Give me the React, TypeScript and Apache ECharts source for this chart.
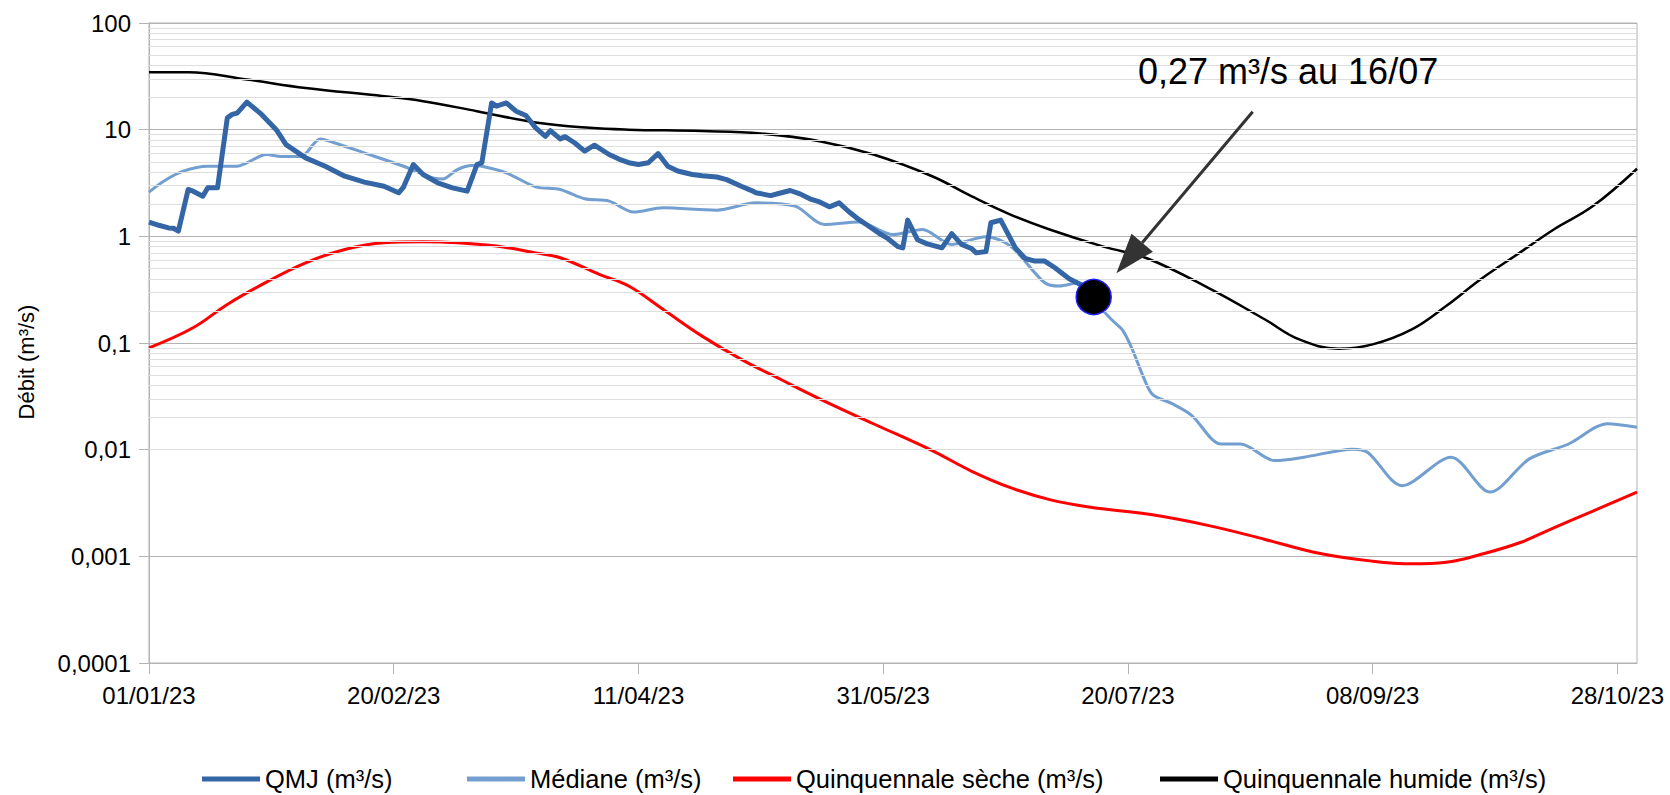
import React, { useEffect, useRef } from "react";
import * as echarts from "echarts";

// ---- data (x = day index from 01/01/2023, y = m³/s) ----
const qmjDays = [0, 2, 4, 5, 6, 8, 9, 11, 12, 14, 16, 17, 18, 20, 23, 26, 28, 32, 36, 40, 44, 48, 51, 52, 54, 56, 59, 62, 65, 67, 68, 70, 71, 73, 75, 77, 79, 81, 82, 84, 85, 87, 89, 91, 94, 96, 98, 100, 102, 104, 106, 108, 111, 113, 116, 118, 121, 123, 124, 127, 129, 131, 133, 135, 137, 139, 141, 143, 145, 147, 149, 151, 153, 154, 155, 157, 159, 162, 164, 166, 168, 169, 171, 172, 174, 175, 177, 179, 181, 183, 185, 188, 191, 193];
const qmjValues = [1.36, 1.27, 1.2, 1.19, 1.12, 2.75, 2.65, 2.38, 2.85, 2.85, 12.9, 13.9, 14.3, 18.1, 13.9, 10, 7.24, 5.44, 4.54, 3.66, 3.22, 2.95, 2.56, 2.9, 4.71, 3.8, 3.17, 2.85, 2.65, 4.7, 4.9, 17.8, 16.6, 17.8, 14.9, 13.6, 10.4, 8.67, 9.8, 8.2, 8.6, 7.5, 6.3, 7.15, 5.85, 5.3, 4.9, 4.71, 4.89, 5.97, 4.54, 4.1, 3.8, 3.7, 3.6, 3.4, 2.95, 2.7, 2.56, 2.41, 2.55, 2.69, 2.5, 2.25, 2.1, 1.89, 2.06, 1.7, 1.44, 1.25, 1.08, 0.95, 0.8, 0.78, 1.42, 0.93, 0.85, 0.78, 1.06, 0.84, 0.77, 0.7, 0.72, 1.34, 1.42, 1.16, 0.78, 0.62, 0.586, 0.586, 0.51, 0.4, 0.34, 0.27];

const medDays = [0, 3, 7, 12, 18, 20, 24, 27, 31, 35, 38, 44, 52, 58, 60, 63, 66, 68, 73, 79, 84, 89, 94, 99, 105, 116, 124, 132, 138, 145, 152, 158, 164, 171, 176, 183, 186, 190, 193, 195, 197, 199, 201, 203, 205, 209, 213, 219, 223, 230, 236, 246, 249, 256, 266, 274, 282, 290, 298, 304];
const medValues = [2.6, 3.29, 4.08, 4.54, 4.54, 4.89, 5.85, 5.6, 5.6, 8.19, 7.5, 6.06, 4.54, 3.53, 3.45, 4.23, 4.61, 4.54, 3.94, 2.91, 2.75, 2.25, 2.14, 1.69, 1.85, 1.76, 2.06, 1.92, 1.29, 1.36, 1.04, 1.16, 0.84, 0.99, 0.81, 0.367, 0.342, 0.367, 0.275, 0.2, 0.16, 0.13, 0.085, 0.05, 0.033, 0.027, 0.021, 0.0113, 0.0113, 0.0079, 0.0085, 0.0101, 0.0094, 0.0046, 0.0085, 0.004, 0.0082, 0.0113, 0.0175, 0.0162];

const secheDays = [0, 9, 16, 24, 32, 40, 48, 56, 63, 71, 79, 84, 92, 98, 105, 113, 121, 129, 137, 148, 160, 168, 176, 184, 192, 205, 217, 228, 239, 250, 258, 265, 272, 280, 287, 295, 304];
const secheValues = [0.09, 0.139, 0.23, 0.372, 0.565, 0.753, 0.87, 0.89, 0.87, 0.81, 0.7, 0.63, 0.44, 0.342, 0.207, 0.116, 0.0703, 0.0457, 0.03, 0.0175, 0.0098, 0.0063, 0.0044, 0.0034, 0.0029, 0.00245, 0.00192, 0.00144, 0.00107, 0.0009, 0.00085, 0.00088, 0.00104, 0.00134, 0.00185, 0.00266, 0.004];

const humideDays = [0, 8, 20, 32, 48, 56, 67, 79, 90, 98, 113, 125, 137, 148, 160, 168, 176, 184, 195, 204, 217, 228, 235, 243, 250, 258, 265, 272, 280, 287, 295, 304];
const humideValues = [34.5, 34.5, 29.5, 24.6, 20.6, 18.5, 14.9, 11.7, 10.4, 10, 9.7, 9.2, 7.8, 5.85, 3.66, 2.38, 1.6, 1.16, 0.8, 0.62, 0.318, 0.166, 0.108, 0.0885, 0.097, 0.134, 0.222, 0.394, 0.7, 1.16, 1.92, 4.3];

const lastDay = [193];
const lastValue = [0.27];

const tickDays = [0, 50, 100, 150, 200, 250, 300];
const seriesNames = ["QMJ (m³/s)", "Médiane (m³/s)", "Quinquennale sèche (m³/s)", "Quinquennale humide (m³/s)"];
const seriesColors = ["#3465a4", "#729fcf", "#ff0000", "#000000"];
const annotationText = "0,27 m³/s au 16/07";
const yAxisTitle = "Débit (m³/s)";

const FONT = "'Liberation Sans', Arial, sans-serif";

const zip = (xs: number[], ys: number[]) => xs.map((x, i) => [x, ys[i]]);

const fmtDate = (d: number) => {
  const dt = new Date(Date.UTC(2023, 0, 1) + Math.round(d) * 86400000);
  const dd = String(dt.getUTCDate()).padStart(2, "0");
  const mm = String(dt.getUTCMonth() + 1).padStart(2, "0");
  const yy = String(dt.getUTCFullYear()).slice(2);
  return `${dd}/${mm}/${yy}`;
};

const fmtLog = (v: number) => {
  const e = Math.round(Math.log10(v));
  if (e >= 0) return String(Math.pow(10, e));
  return "0," + "0".repeat(-e - 1) + "1";
};

const minorGrid: number[] = [];
for (let e = -4; e <= 1; e++) {
  for (let k = 2; k <= 9; k++) minorGrid.push(k * Math.pow(10, e));
}

export default function App() {
  const ref = useRef<HTMLDivElement>(null);
  useEffect(() => {
    document.body.style.margin = "0";
    const chart = echarts.init(ref.current!, undefined, { renderer: "svg" });
    const legendLefts = [202, 467, 733, 1160];
    const option: any = {
      animation: false,
      textStyle: { fontFamily: FONT },
      grid: {
        left: 149,
        right: 33,
        top: 23,
        bottom: 132,
        show: true,
        borderColor: "#b3b3b3",
        borderWidth: 1,
        containLabel: false,
      },
      legend: seriesNames.map((n, i) => ({
        data: [n],
        left: legendLefts[i],
        top: 765,
        padding: 0,
        itemWidth: 58,
        itemHeight: 5,
        icon: "rect",
        selectedMode: false,
        textStyle: { fontSize: 25.5, color: "#000", fontFamily: FONT, lineHeight: 28 },
      })),
      xAxis: {
        type: "value",
        min: 0,
        max: 304,
        interval: 50,
        axisLine: { show: true, lineStyle: { color: "#b3b3b3", width: 1 } },
        axisTick: { show: true, length: 11, lineStyle: { color: "#b3b3b3" }, customValues: tickDays },
        axisLabel: {
          customValues: tickDays,
          formatter: (v: number) => (v % 50 === 0 ? fmtDate(v) : ""),
          fontSize: 24,
          color: "#000",
          margin: 20,
          fontFamily: FONT,
        },
        splitLine: { show: false },
      },
      yAxis: {
        type: "log",
        logBase: 10,
        min: 0.0001,
        max: 100,
        splitNumber: 6,
        axisLine: { show: true, lineStyle: { color: "#b3b3b3", width: 1 } },
        axisTick: { show: true, length: 10, lineStyle: { color: "#b3b3b3" } },
        axisLabel: { formatter: fmtLog, fontSize: 24, color: "#000", margin: 18, fontFamily: FONT },
        splitLine: { show: true, lineStyle: { color: "#b3b3b3", width: 1 } },
      },
      series: [
        {
          type: "line",
          data: [],
          silent: true,
          z: 1,
          markLine: {
            silent: true,
            symbol: "none",
            label: { show: false },
            emphasis: { disabled: true },
            lineStyle: { color: "#dedede", width: 1, type: "solid" },
            data: minorGrid.map((v) => ({ yAxis: v })),
          },
        },
        {
          name: seriesNames[3],
          type: "line",
          data: zip(humideDays, humideValues),
          smooth: 0.4,
          showSymbol: false,
          color: seriesColors[3],
          lineStyle: { width: 2.5, color: seriesColors[3] },
          z: 3,
        },
        {
          name: seriesNames[2],
          type: "line",
          data: zip(secheDays, secheValues),
          smooth: 0.4,
          showSymbol: false,
          color: seriesColors[2],
          lineStyle: { width: 3, color: seriesColors[2] },
          z: 3,
        },
        {
          name: seriesNames[1],
          type: "line",
          data: zip(medDays, medValues),
          smooth: 0.3,
          showSymbol: false,
          color: seriesColors[1],
          lineStyle: { width: 3, color: seriesColors[1] },
          z: 4,
        },
        {
          name: seriesNames[0],
          type: "line",
          data: zip(qmjDays, qmjValues),
          smooth: false,
          showSymbol: false,
          color: seriesColors[0],
          lineStyle: { width: 5, color: seriesColors[0], join: "round" },
          z: 5,
        },
        {
          type: "scatter",
          data: zip(lastDay, lastValue),
          symbol: "circle",
          symbolSize: 35,
          itemStyle: { color: "#000000", borderColor: "#2020ff", borderWidth: 1.5, opacity: 1 },
          z: 10,
        },
      ],
      graphic: [
        {
          type: "text",
          x: 26,
          y: 362,
          rotation: Math.PI / 2,
          style: { text: yAxisTitle, fill: "#000", font: `22px ${FONT}`, textAlign: "center", textVerticalAlign: "middle" },
        },
        {
          type: "text",
          x: 1138,
          y: 71,
          style: { text: annotationText, fill: "#000", font: `36px ${FONT}`, textAlign: "left", textVerticalAlign: "middle" },
          z: 20,
        },
        {
          type: "line",
          shape: { x1: 1252.7, y1: 111.7, x2: 1142.2, y2: 242.7 },
          style: { stroke: "#333333", lineWidth: 3 },
          z: 20,
        },
        {
          type: "polygon",
          shape: { points: [[1131.5, 233.7], [1152.9, 251.7], [1116.4, 273.3]] },
          style: { fill: "#333333" },
          z: 20,
        },
      ],
    };
    chart.setOption(option);
    return () => chart.dispose();
  }, []);
  return <div ref={ref} style={{ position: "absolute", left: 0, top: 0, width: 1670, height: 795 }} />;
}
